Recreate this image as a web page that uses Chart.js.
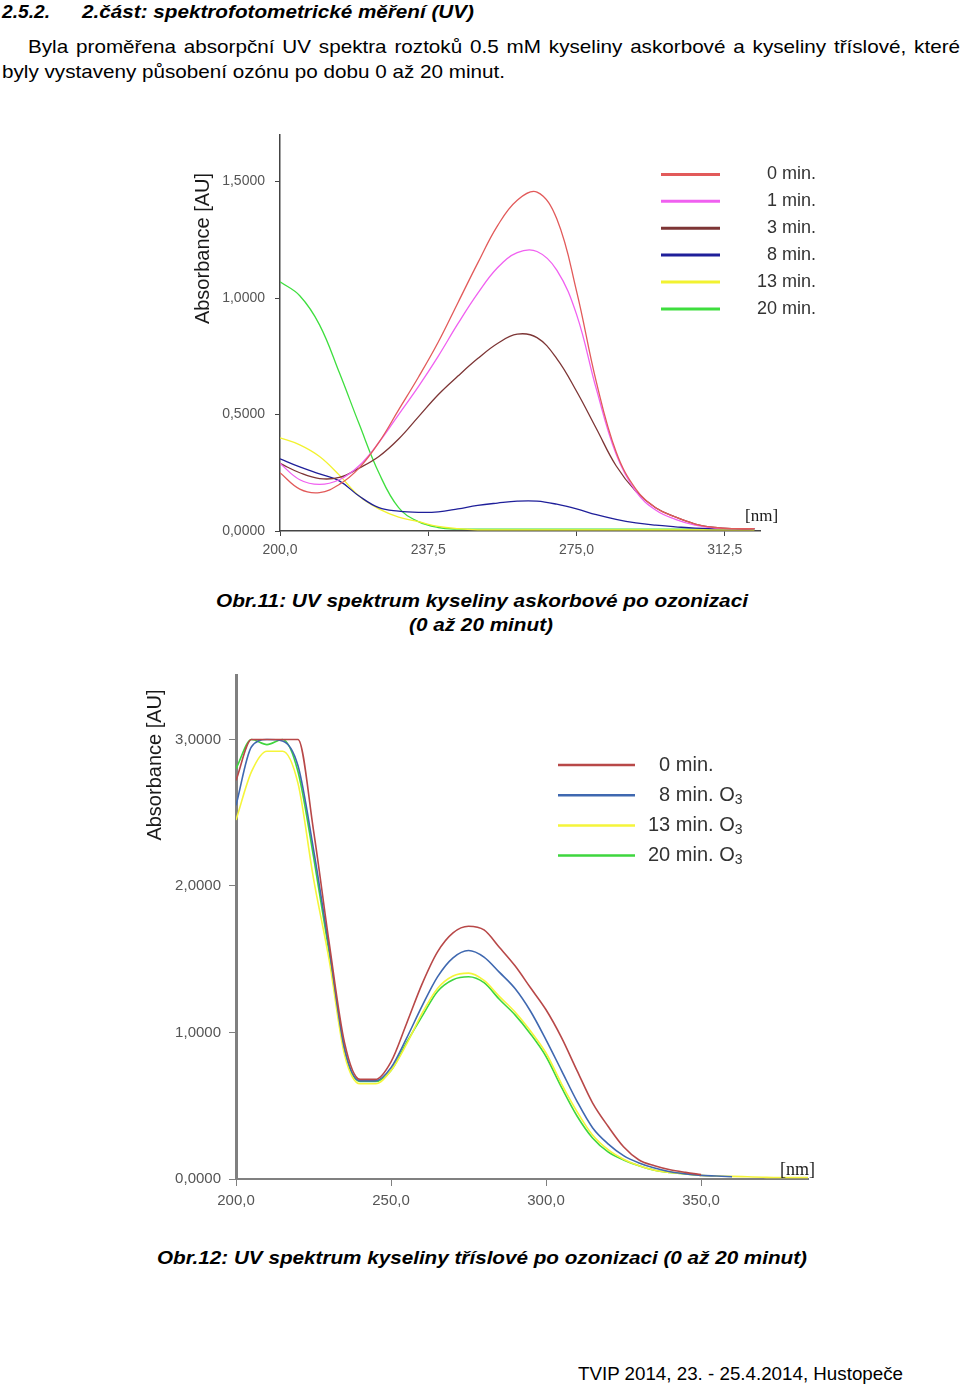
<!DOCTYPE html>
<html lang="cs">
<head>
<meta charset="utf-8">
<title>UV spektra po ozonizaci</title>
<script src="https://cdn.jsdelivr.net/npm/chart.js@4.4.1/dist/chart.umd.min.js"></script>
<style>
  html, body { margin: 0; padding: 0; background: #fff; }
  body { width: 960px; height: 1386px; position: relative; overflow: hidden;
         font-family: "Liberation Sans", Arial, sans-serif; color: #000; }
  .t { position: absolute; white-space: nowrap; font-size: 18px; line-height: 22px; transform-origin: 0 50%; }
  .p { font-size: 19px; }
  .bi { font-weight: bold; font-style: italic; }
  canvas { position: absolute; }
  #c1 { left: 150px; top: 115px; }
  #c2 { left: 100px; top: 655px; }
</style>
</head>
<body>
<div class="t bi" data-w="48" style="left:2px;top:1px">2.5.2.</div>
<div class="t bi" data-w="392" style="left:82px;top:1px">2.část: spektrofotometrické měření (UV)</div>
<div class="t p" id="line1" style="left:28px;top:36px">Byla proměřena absorpční UV spektra roztoků 0.5 mM kyseliny askorbové a kyseliny tříslové, které</div>
<div class="t p" id="line2" style="left:2px;top:61px">byly vystaveny působení ozónu po dobu 0 až 20 minut.</div>

<canvas id="c1" width="700" height="455"></canvas>

<div class="t bi" data-w="532" style="left:216px;top:590px">Obr.11: UV spektrum kyseliny askorbové po ozonizaci</div>
<div class="t bi" data-w="144" style="left:409px;top:614px">(0 až 20 minut)</div>

<canvas id="c2" width="760" height="570"></canvas>

<div class="t bi" data-w="650" style="left:157px;top:1247px">Obr.12: UV spektrum kyseliny tříslové po ozonizaci (0 až 20 minut)</div>
<div class="t" data-w="325" style="left:578px;top:1363px">TVIP 2014, 23. - 25.4.2014, Hustopeče</div>

<script>
// --- Obr.11: kyselina askorbova (wavelength nm / absorbance AU)
const wl1 = [200, 205, 210, 215, 220, 225, 230, 235, 240, 245, 250, 255, 260, 265, 270, 275, 280, 285, 290, 295, 300, 305, 310, 315, 320];
const asc0  = [0.25, 0.18, 0.165, 0.20, 0.27, 0.38, 0.52, 0.66, 0.81, 0.98, 1.15, 1.31, 1.42, 1.455, 1.34, 1.03, 0.64, 0.34, 0.18, 0.10, 0.06, 0.03, 0.015, 0.01, 0.01];
const asc1  = [0.29, 0.22, 0.20, 0.22, 0.28, 0.38, 0.50, 0.62, 0.75, 0.89, 1.02, 1.13, 1.195, 1.20, 1.12, 0.93, 0.61, 0.33, 0.17, 0.09, 0.05, 0.025, 0.012, 0.01, 0.01];
const asc3  = [0.29, 0.25, 0.225, 0.23, 0.27, 0.32, 0.395, 0.49, 0.585, 0.665, 0.74, 0.805, 0.845, 0.83, 0.74, 0.60, 0.44, 0.28, 0.17, 0.10, 0.06, 0.03, 0.015, 0.01, 0.01];
const asc8  = [0.31, 0.275, 0.245, 0.215, 0.15, 0.10, 0.085, 0.08, 0.082, 0.095, 0.11, 0.12, 0.128, 0.128, 0.115, 0.095, 0.07, 0.05, 0.035, 0.025, 0.018, 0.012, 0.01, 0.01, 0.01];
const asc13 = [0.40, 0.37, 0.32, 0.24, 0.15, 0.095, 0.06, 0.04, 0.02, 0.01, 0.005, 0.005, 0.005, 0.005, 0.005, 0.005, 0.005, 0.005, 0.005, 0.005, 0.005, 0.005, 0.005, 0.005, 0.005];
const asc20 = [1.07, 1.01, 0.885, 0.68, 0.46, 0.25, 0.10, 0.04, 0.015, 0.008, 0.008, 0.008, 0.008, 0.008, 0.008, 0.008, 0.008, 0.008, 0.008, 0.008, 0.008, 0.008, 0.008, 0.008, 0.008];
const labels1 = ['0 min.', '1 min.', '3 min.', '8 min.', '13 min.', '20 min.'];
const colors1 = ['#e25a5a', '#f060f0', '#7d3535', '#1f1f9a', '#f2f230', '#3ede3e'];
const ticks1X = [200, 237.5, 275, 312.5];
const ticks1Y = [0, 0.5, 1, 1.5];

// --- Obr.12: kyselina trislova
const wl2 = [200, 205, 210, 215, 220, 225, 230, 235, 240, 245, 250, 255, 260, 265, 270, 275, 280, 285, 290, 295, 300, 305, 310, 315, 320, 325, 330, 335, 340, 345, 350, 355, 360, 365, 370, 375, 380, 385];
const tan0  = [2.72, 3.0, 3.0, 3.0, 3.0, 2.38, 1.62, 0.93, 0.68, 0.68, 0.80, 1.06, 1.33, 1.55, 1.68, 1.725, 1.70, 1.58, 1.455, 1.305, 1.155, 0.965, 0.74, 0.52, 0.36, 0.22, 0.13, 0.09, 0.063, 0.045, 0.03, null, null, null, null, null, null, null];
const tan8  = [2.55, 2.95, 3.0, 2.99, 2.82, 2.25, 1.58, 0.89, 0.67, 0.67, 0.76, 0.96, 1.18, 1.38, 1.51, 1.56, 1.515, 1.41, 1.30, 1.145, 0.95, 0.74, 0.53, 0.35, 0.24, 0.16, 0.11, 0.075, 0.05, 0.035, 0.025, 0.02, 0.015, null, null, null, null, null];
const tan13 = [2.45, 2.78, 2.92, 2.92, 2.70, 2.05, 1.50, 0.85, 0.65, 0.65, 0.74, 0.92, 1.13, 1.30, 1.385, 1.405, 1.355, 1.245, 1.14, 1.01, 0.86, 0.65, 0.46, 0.30, 0.20, 0.135, 0.09, 0.06, 0.045, 0.035, 0.025, 0.02, 0.018, 0.015, 0.012, 0.01, 0.01, 0.01];
const tan20 = [2.80, 3.0, 2.965, 3.0, 2.78, 2.20, 1.55, 0.88, 0.665, 0.665, 0.74, 0.93, 1.11, 1.28, 1.36, 1.38, 1.34, 1.225, 1.12, 0.99, 0.836, 0.625, 0.43, 0.28, 0.185, 0.13, 0.09, 0.06, 0.045, 0.035, 0.025, null, null, null, null, null, null, null];
const labels2 = ['0 min.', '8 min. O₃', '13 min. O₃', '20 min. O₃'];
const colors2 = ['#b84848', '#3f68b0', '#f5f53a', '#3ed63e'];
const ticks2X = [200, 250, 300, 350];
const ticks2Y = [0, 1, 2, 3];

const comma = (v, d) => v.toFixed(d).replace('.', ',');

function series(xs, ys) {
    return xs.map((x, i) => ({ x: x, y: ys[i] })).filter(p => p.y !== null);
}

// axis title, [nm] unit and the line legend drawn inside the plot
const decorPlugin = {
    id: 'decor',
    afterDraw(chart, args, opts) {
        const ctx = chart.ctx;
        ctx.save();
        ctx.fillStyle = '#1a1a1a';
        ctx.textBaseline = 'middle';

        ctx.save();
        ctx.translate(opts.yTitle.x, opts.yTitle.y);
        ctx.rotate(-Math.PI / 2);
        ctx.textAlign = 'center';
        ctx.font = opts.yTitle.font;
        ctx.fillText('Absorbance [AU]', 0, 0);
        ctx.restore();

        ctx.textAlign = 'left';
        ctx.font = opts.unit.font;
        ctx.fillText('[nm]', opts.unit.x, opts.unit.y);

        const lg = opts.legend;
        chart.data.datasets.forEach((ds, i) => {
            const y = lg.y0 + i * lg.gap;
            ctx.strokeStyle = ds.borderColor;
            ctx.lineWidth = lg.lineWidth;
            ctx.beginPath();
            ctx.moveTo(lg.x1, y);
            ctx.lineTo(lg.x2, y);
            ctx.stroke();

            ctx.font = lg.font;
            ctx.fillStyle = '#333';
            const lead = /^\d\s/.test(ds.label) ? ctx.measureText('0').width : 0;
            let x = lg.textX + lead;
            const parts = ds.label.split('₃');
            ctx.fillText(parts[0], x, y);
            if (parts.length > 1) {
                x += ctx.measureText(parts[0]).width;
                ctx.font = lg.subFont;
                ctx.fillText('3', x, y + 5);
            }
        });
        ctx.restore();
    }
};

function axes(cfg) {
    return {
        x: {
            type: 'linear',
            min: cfg.xMin, max: cfg.xMax,
            afterFit: s => { s.height = cfg.xHeight; },
            afterBuildTicks: s => { s.ticks = cfg.xTicks.map(v => ({ value: v })); },
            grid: { drawOnChartArea: false, tickLength: cfg.tick, color: cfg.axisColor, lineWidth: 1 },
            border: { color: cfg.axisColor, width: cfg.xBorder },
            ticks: {
                padding: cfg.xPad, maxRotation: 0, autoSkip: false,
                color: '#555', font: { family: 'Liberation Sans', size: cfg.fontSize },
                callback: v => comma(v, 1)
            }
        },
        y: {
            min: 0, max: cfg.yMax,
            afterFit: s => { s.width = cfg.yWidth; },
            afterBuildTicks: s => { s.ticks = cfg.yTicks.map(v => ({ value: v })); },
            grid: { drawOnChartArea: false, tickLength: cfg.tick, color: cfg.axisColor, lineWidth: 1 },
            border: { color: cfg.axisColor, width: cfg.yBorder },
            ticks: {
                padding: cfg.yPad, autoSkip: false,
                color: '#555', font: { family: 'Liberation Sans', size: cfg.fontSize },
                callback: v => comma(v, 4)
            }
        }
    };
}

const asc = [asc0, asc1, asc3, asc8, asc13, asc20];
new Chart(document.getElementById('c1'), {
    type: 'line',
    data: {
        datasets: asc.map((ys, i) => ({
            label: labels1[i],
            data: series(wl1, ys),
            borderColor: colors1[i],
            borderWidth: 1.3,
            pointRadius: 0,
            tension: 0.4
        }))
    },
    options: {
        responsive: false,
        animation: false,
        devicePixelRatio: 1,
        layout: { padding: { top: 20, right: 90, left: 0, bottom: 0 } },
        plugins: {
            legend: { display: false },
            tooltip: { enabled: false },
            decor: {
                yTitle: { x: 53, y: 133.5, font: '20px "Liberation Sans"' },
                unit: { x: 595, y: 402, font: '17px "Liberation Serif"' },
                legend: { x1: 511, x2: 570, textX: 607, y0: 59.4, gap: 26.9, lineWidth: 3,
                          font: '18px "Liberation Sans"', subFont: '13px "Liberation Sans"' }
            }
        },
        scales: axes({ xMin: 200, xMax: 321.4, yMax: 1.7, xTicks: ticks1X, yTicks: ticks1Y,
                       xHeight: 39, yWidth: 130, tick: 5, xPad: 6, yPad: 10, fontSize: 14,
                       axisColor: '#444', xBorder: 1.5, yBorder: 1.5 })
    },
    plugins: [decorPlugin]
});

const tan = [tan0, tan8, tan13, tan20];
new Chart(document.getElementById('c2'), {
    type: 'line',
    data: {
        datasets: tan.map((ys, i) => ({
            label: labels2[i],
            data: series(wl2, ys),
            borderColor: colors2[i],
            borderWidth: 1.6,
            pointRadius: 0,
            cubicInterpolationMode: 'monotone'
        }))
    },
    options: {
        responsive: false,
        animation: false,
        devicePixelRatio: 1,
        layout: { padding: { top: 20, right: 52, left: 0, bottom: 0 } },
        plugins: {
            legend: { display: false },
            tooltip: { enabled: false },
            decor: {
                yTitle: { x: 55, y: 110, font: '20px "Liberation Sans"' },
                unit: { x: 680, y: 515, font: '18px "Liberation Serif"' },
                legend: { x1: 458, x2: 535, textX: 548, y0: 110, gap: 30.2, lineWidth: 2.5,
                          font: '20px "Liberation Sans"', subFont: '14px "Liberation Sans"' }
            }
        },
        scales: axes({ xMin: 200, xMax: 384.5, yMax: 3.44, xTicks: ticks2X, yTicks: ticks2Y,
                       xHeight: 46, yWidth: 136, tick: 7, xPad: 6, yPad: 8, fontSize: 15,
                       axisColor: '#808080', xBorder: 2, yBorder: 3 })
    },
    plugins: [decorPlugin]
});

// fit the page text to the widths of the original lines
document.querySelectorAll('.t[data-w]').forEach(el => {
    const w = +el.dataset.w;
    el.style.transform = 'scaleX(' + (w / el.getBoundingClientRect().width) + ')';
});
// paragraph: second line sets the squeeze, first line is justified to the right margin
const line1 = document.getElementById('line1');
const line2 = document.getElementById('line2');
const k = 503 / line2.getBoundingClientRect().width;
line2.style.transform = 'scaleX(' + k + ')';
const natural1 = line1.getBoundingClientRect().width * k;
const gaps = line1.textContent.split(' ').length - 1;
if (natural1 < 932) {
    line1.style.wordSpacing = ((932 - natural1) / gaps / k) + 'px';
    line1.style.transform = 'scaleX(' + k + ')';
} else {
    line1.style.transform = 'scaleX(' + (932 / line1.getBoundingClientRect().width) + ')';
}
</script>
</body>
</html>
